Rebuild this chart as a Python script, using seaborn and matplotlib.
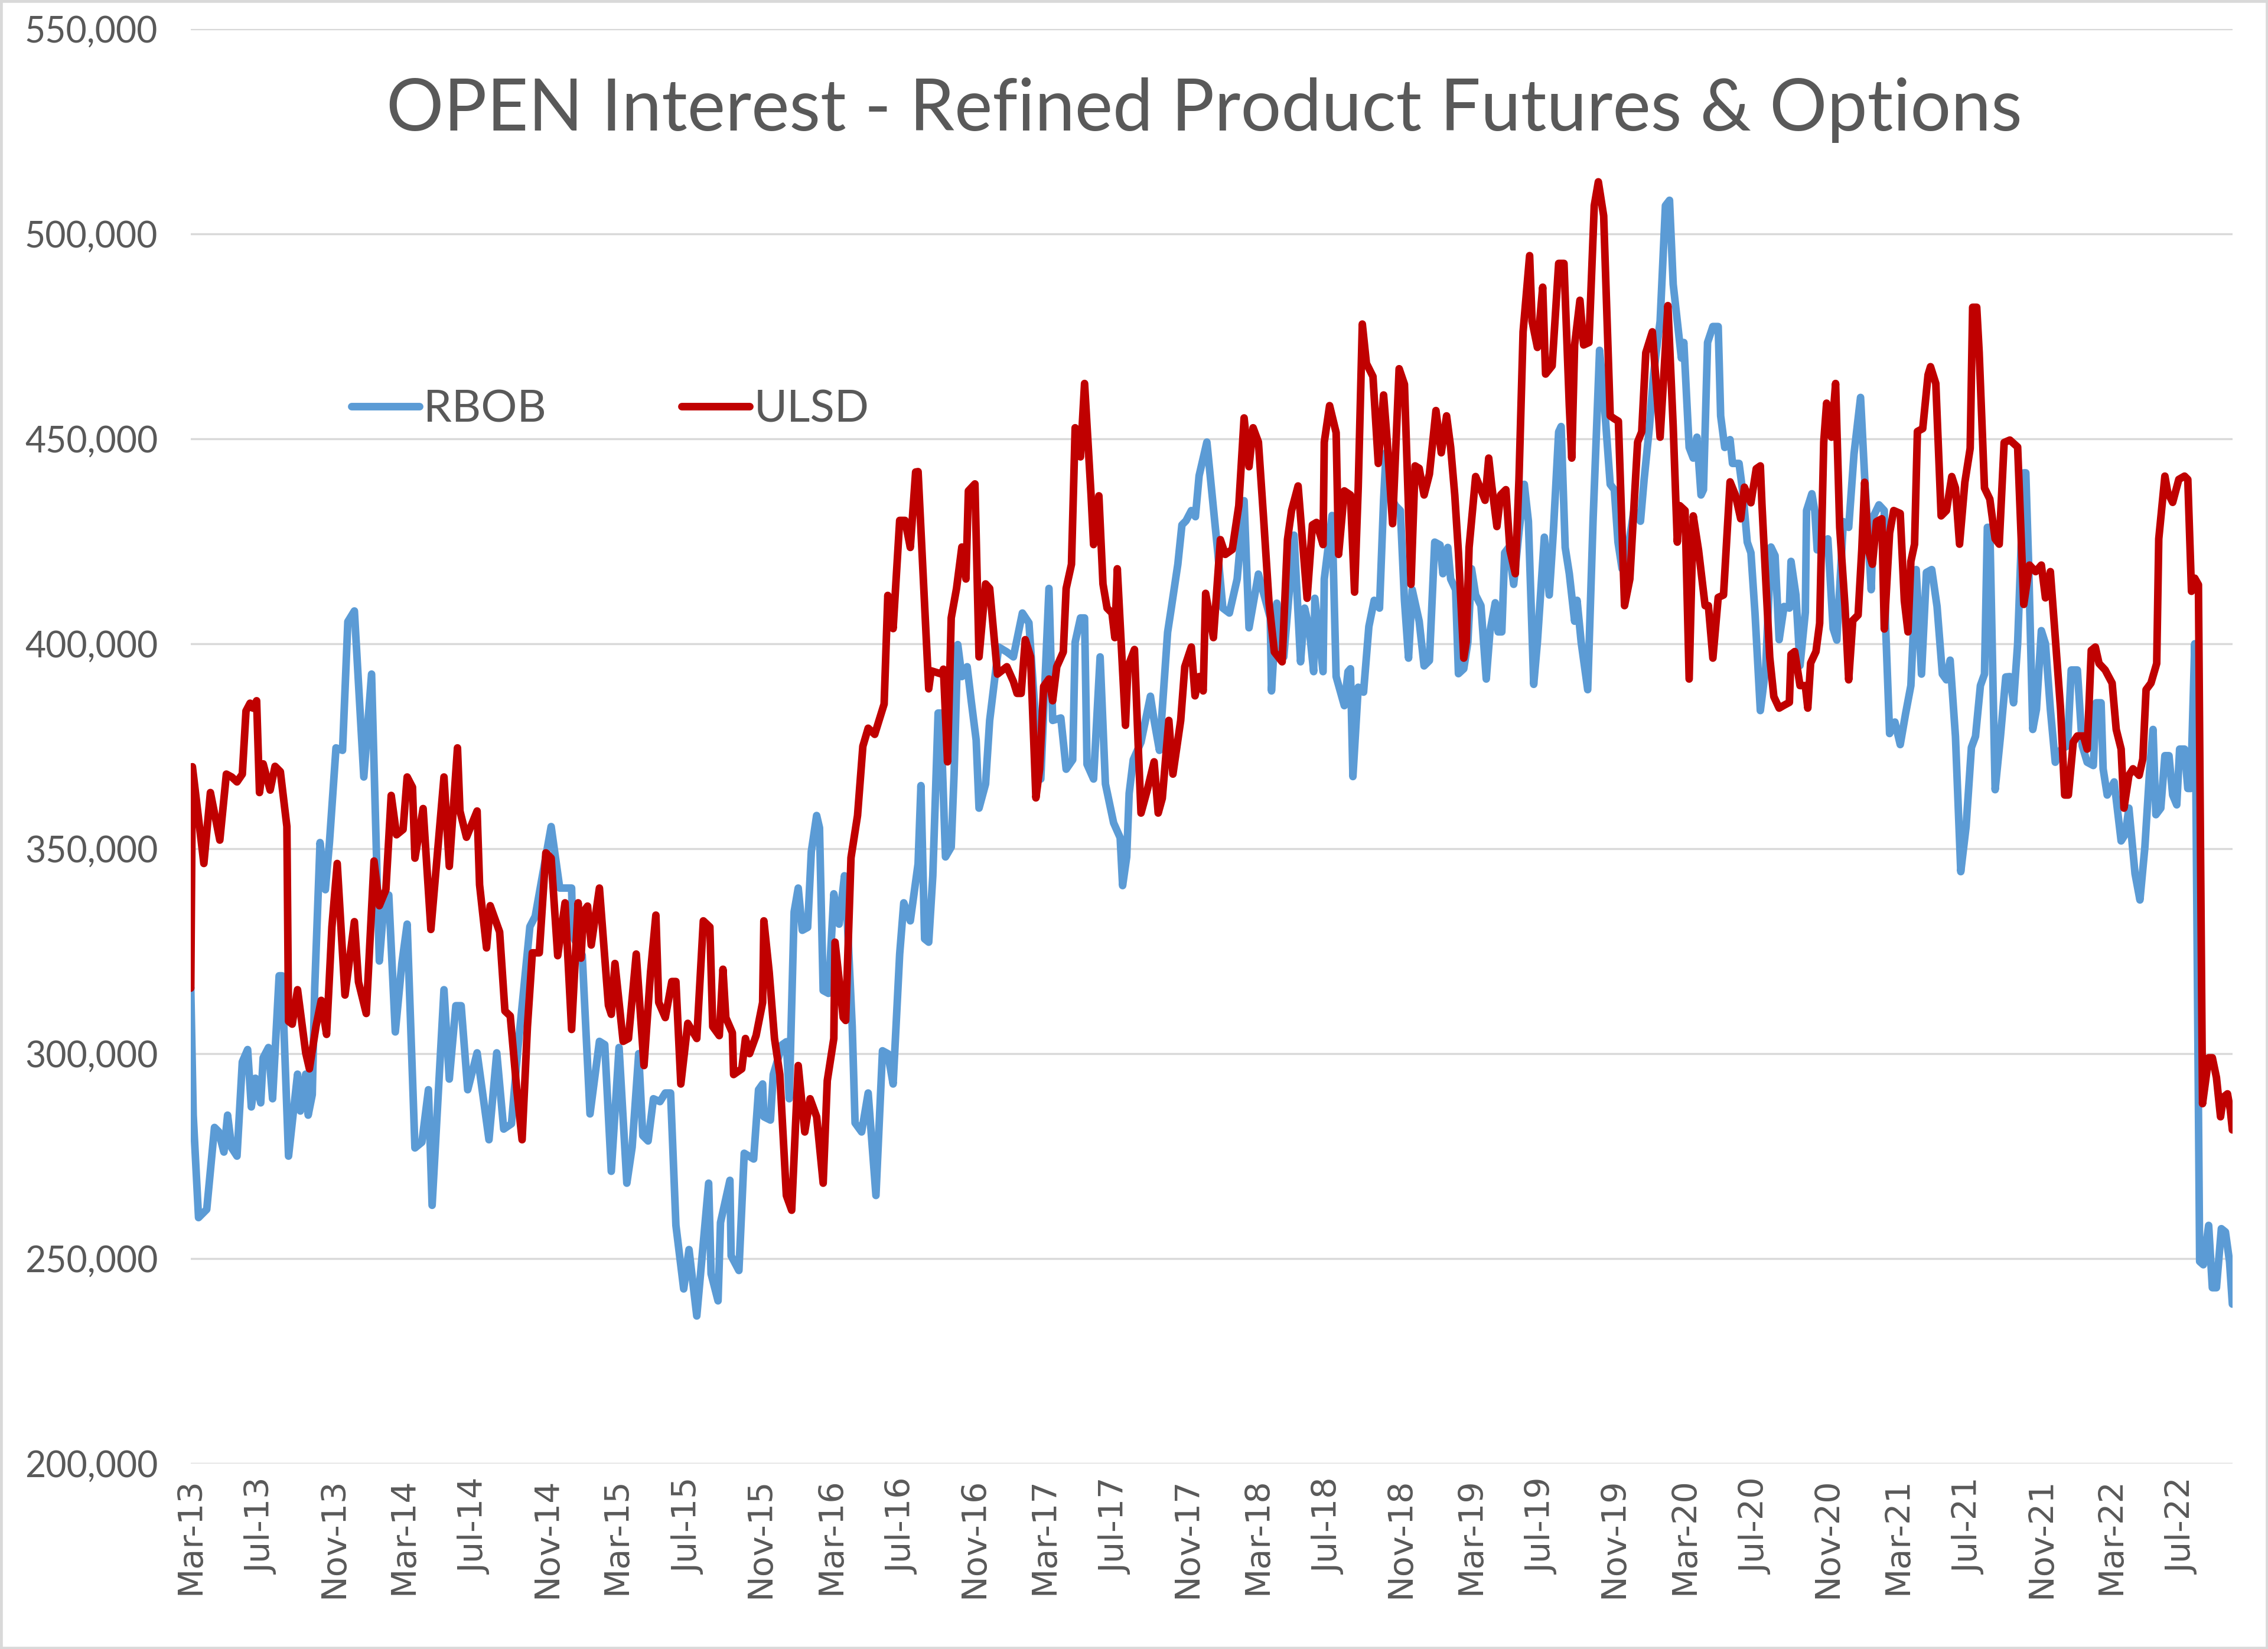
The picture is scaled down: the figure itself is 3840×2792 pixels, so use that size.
import numpy as np
import pandas as pd
import matplotlib
matplotlib.use("Agg")
import matplotlib.pyplot as plt
import matplotlib.dates as mdates
from matplotlib.ticker import FuncFormatter
from matplotlib.lines import Line2D
from matplotlib.patches import Rectangle
import seaborn as sns

# ---------------- data (weeks since 2013-03-01, values in thousands of contracts) ----------------
START = "2013-03-01"

rbob_week = [
    0, 0.6, 1.9, 3.9, 5.8, 6.8, 8.1, 9, 10, 11.3,
    12.6, 13.9, 14.8, 15.8, 17.1, 17.7, 19, 20, 21.6, 22.3,
    23.9, 26.1, 26.8, 28.1, 28.7, 29.7, 30.3, 31.6, 32.9, 33.9,
    35.5, 37.1, 38.4, 40, 42.3, 44.2, 46.1, 47.4, 48.4, 50,
    51.6, 52.9, 54.8, 56.5, 58.1, 59, 61.9, 63.2, 64.8, 66.1,
    67.7, 70, 72.9, 74.8, 76.5, 78.4, 80, 82.9, 84.2, 88.1,
    90.2, 93.1, 93.4, 95.7, 97.6, 99.9, 101.2, 102.8, 104.7, 106.6,
    107.9, 109.5, 110.5, 111.8, 113.1, 114.7, 116, 117.3, 118.6, 120.5,
    121.8, 123.7, 126.6, 127.2, 128.9, 129.5, 131.8, 132.1, 134, 135.3,
    137.6, 138.8, 139.8, 140.1, 141.7, 142.4, 144.6, 145.6, 146.3, 147.5,
    148.5, 149.5, 150.8, 151.7, 153, 153.7, 154.6, 155.9, 157.2, 158.5,
    159.8, 160.4, 161.7, 162.4, 164, 165.6, 167.5, 169.1, 170.4, 171.7,
    173.3, 174.3, 175.9, 177.8, 178.5, 179.4, 180.4, 181.4, 182.7, 183.3,
    184.5, 185.9, 186.6, 187.5, 188.5, 189.8, 190.8, 192, 192.7, 194.3,
    195.3, 196.6, 197.5, 199.5, 201.1, 203.3, 204.9, 206.2, 207.8, 209.8,
    210.7, 212.7, 214, 215.6, 216.2, 217.5, 218.5, 219.1, 220.7, 222.3,
    223.6, 225.6, 227.2, 227.8, 228.8, 229.4, 230.4, 232.3, 234.6, 235.5,
    236.8, 238.8, 239.7, 241.3, 242.3, 243.3, 244.6, 245.6, 246.5, 248.4,
    251, 252.3, 253.9, 255.8, 257.5, 258.7, 261, 263.9, 264.2, 265.5,
    266.5, 267.2, 269.7, 271.3, 272.3, 273.4, 274.5, 274.8, 276.8, 277.1,
    279, 280, 282, 282.9,
    283.5, 284.1, 285.4, 286.7, 288, 289.3, 290.6, 291.6, 292.2, 293.2,
    294.5, 295.7, 296.7, 297.7, 298.6, 300.3, 301.5, 302.8, 304.1, 305.4,
    306.1, 307.3, 308, 309.2, 309.9, 311.2, 312.2, 313.1, 314.1, 315.4,
    316.7, 317.6, 318.9, 319.6, 320.5, 321.2, 322.2, 323.4, 324.7, 326,
    327, 328.3, 329.2, 330.9, 332.1, 333.1, 334.4, 335, 336, 337,
    338.3, 338.9, 339.9, 341.5, 342.8, 344.4, 345.4, 347, 348, 348.9,
    349.9, 351.2, 352.8, 354.4, 355.3, 356.6, 357.6, 359.2, 360.5, 361.5,
    362.4, 364.4, 365, 366.3, 367.3, 368.2, 369.2, 369.8, 370.8, 372.1,
    373.4, 374, 375, 376.3, 376.9, 378.5, 379.5, 380.5, 381.4, 382.4,
    383.7,
    385, 386.3, 387.3, 388.3, 389.5, 390.8, 391.2, 392.4, 393.4, 394.7,
    395, 396.3, 397, 397.6, 398.9, 400.2, 401.5, 402.4, 404, 405.3,
    406.6, 408.2, 409.2, 410.8, 411.4, 412.7, 414, 414.3, 415.3, 416.6,
    417.9, 419.2, 420.5, 421.8, 423.1, 424.3, 425.6, 426.9, 428.2, 429.2,
    430.1, 431.4, 432.7, 434, 435.3, 436.3, 437.5, 438.5, 439.2, 439.8,
    441.1, 442.4, 443.7,
    444.7, 445.6, 446.6, 448.1, 448.6, 449.3, 450.3, 451.2, 452.4, 453.4,
    454.6, 455.8, 457.3, 458.8, 459.7, 461.2, 462.4, 463.6, 465.1, 465.8,
    467, 467.5, 468.5, 470.2, 471.9, 472.9, 473.8, 475.3, 476.5, 477.7,
    478.9, 479.7, 480.4, 481.6, 482.6, 483.6, 484.5, 485.5, 486.2, 487.4,
    488.2, 488.9, 489.9, 491.1, 492, 493.3, 494.2, 495.2, 496.4, 497.4,
    498.4, 499.1,
]
rbob_k = [
    316, 285, 260, 262, 282, 281, 276, 285, 277, 275,
    298, 301, 287, 294, 288, 299, 301.5, 289, 319, 319,
    275, 295, 286, 295, 285, 290, 316, 351.5, 340, 351.5,
    374.6, 374, 405.4, 408, 367.5, 392.6, 322.6, 338.7, 338.7, 305.3,
    322, 331.6, 277, 278.4, 291.2, 263, 315.6, 293.8, 311.7, 311.7,
    291.2, 300.2, 279, 300.2, 281.6, 282.9, 301.5, 331, 333.5, 355.4,
    340.4, 340.4, 328.7, 324, 285.3, 303, 302.2, 271.3, 301.5, 268.4,
    277.2, 300, 280, 278.7, 289, 288.3, 290.4, 290.4, 258.1, 242.6,
    252.2, 236, 268.4, 246.3, 239.7, 258.8, 269.1, 250.7, 247.1, 275.7,
    274.3, 291.2, 292.6, 284.6, 283.8, 294.9, 302.2, 302.9, 289, 334.6,
    340.4, 330.1, 330.8, 349.3, 358.1, 355.1, 315.4, 314.7, 339, 331.6,
    343.4, 334.6, 306.6, 283.1, 280.9, 290.4, 265.4, 300.7, 300, 292.6,
    324.3, 336.8, 332.4, 346.3, 365.4, 328, 327.2, 343.4, 383.1, 383.1,
    348, 350.4, 368.2, 399.8, 392, 394.4, 386, 376.5, 359.9, 365.8,
    381.3, 392, 399.2, 398, 396.8, 407.5, 405.1, 386.1, 367, 413.5,
    381.3, 381.9, 369.4, 371.7, 400.4, 406.3, 406.3, 370.6, 367, 396.8,
    365.8, 356.3, 352.7, 341, 348, 363.5, 371.7, 376, 387.2, 381.3,
    374, 402.8, 408.7, 419.4, 429, 430, 432.5, 431, 441, 449.2,
    423, 408.7, 407.5, 415.8, 434.9, 403.9, 417, 406.3, 388.5, 409.9,
    399.2, 396.8, 426.5, 395.6, 408.7, 403.9, 393.2, 411.1, 393.2, 415.8,
    431.3, 392, 384.9, 393.2,
    393.9, 367.6, 389.4, 388.2, 404.2, 410.6, 408.7, 435, 446.6, 436.3,
    433.7, 432.5, 410.6, 396.5, 413.2, 405.5, 394.6, 395.9, 424.8, 424.1,
    417.1, 423.5, 415.8, 413.2, 392.7, 393.9, 400.4, 418.3, 411.9, 409.3,
    391.4, 402.9, 410, 402.9, 402.9, 422.2, 423.5, 414.5, 427.3, 438.9,
    429.9, 390.1, 400.4, 426, 411.9, 427.3, 451.7, 453, 423.5, 417.1,
    405.5, 410.6, 400.4, 388.8, 429.9, 471.6, 460.7, 438.9, 437.6, 424.8,
    418.3, 422.2, 432.5, 429.9, 440.2, 453, 465.8, 478.7, 506.9, 508.2,
    487.7, 469.7, 473.5, 447.9, 445.3, 450.4, 436.3, 437.6, 473.5, 477.4,
    477.4, 455.6, 447.9, 449.8, 444, 444, 436.3, 424.8, 422.2, 407.4,
    383.7,
    394, 423.6, 421.5, 401, 409.1, 408.7, 420.1, 411.9, 394.7, 407.7,
    432.5, 436.6, 432.5, 422.9, 424.3, 425.6, 403.7, 400.9, 429.8, 428.4,
    446.3, 460.1, 440.8, 413.2, 431.2, 433.9, 432.5, 405, 378.1, 380.9,
    375.4, 382.9, 389.8, 418.1, 392.6, 417.4, 418.1, 409.1, 392.6, 391.2,
    396, 377.4, 344.4, 355.4, 374.7, 377.4, 389.8, 392.6, 428.4, 428.4,
    364.4, 377.4, 391.9,
    392, 385.6, 400, 441.7, 441.7, 419.2, 379.1, 384, 403.2, 400,
    384, 371.1, 374.3, 375.1, 393.6, 393.6, 375.1, 371.1, 370.3, 385.6,
    385.6, 369.5, 363.1, 366.3, 351.9, 353.5, 359.9, 343.9, 337.5, 350.3,
    369.5, 379.1, 358.3, 359.9, 372.7, 372.7, 363.1, 360.7, 374.3, 374.3,
    364.7, 364.7, 400, 249.3, 248.5, 258.1, 242.9, 242.9, 257.3, 256.5,
    249.3, 238.9,
]

ulsd_week = [
    0, 0.4, 3.2, 4.8, 7.1, 8.7, 10, 11.3, 12.6, 13.5,
    14.5, 15.2, 16.1, 16.8, 17.7, 19.4, 20.6, 21.9, 23.5, 23.9,
    24.8, 26.1, 28.1, 29, 30.6, 31.9, 33.2, 34.5, 35.8, 37.7,
    40, 41, 42.9, 44.8, 46.1, 47.7, 49, 50.3, 51.9, 52.9,
    54.2, 54.8, 56.8, 58.7, 61.9, 63.2, 65.2, 65.8, 67.4, 70,
    70.6, 72.3, 73.2, 75.5, 76.8, 78.1, 79.7, 81, 82.3, 83.5,
    85.2, 86.8, 88.1, 89.7,
    91.5, 93.1, 94.7, 95.4, 96, 97, 97.9, 99.9, 102.1, 102.8,
    103.7, 105.7, 107, 108.9, 110.8, 112.4, 113.7, 114.4, 116, 117.6,
    118.6, 119.8, 121.5, 123.7, 125.3, 126.9, 127.6, 129.2, 130.1, 130.8,
    132.4, 132.7, 134.7, 135.6, 136.6, 138.2, 139.8, 140.1, 141.4, 142.7,
    144, 145.6, 146.9, 148.5, 150.1, 151.4, 153, 154.6, 155.6, 157.2,
    157.5, 159.5, 160.1, 161.4, 163, 164.3, 165.6, 167.2, 169.5, 170.4,
    171.7, 173.3, 174.6, 175.9, 177.2, 177.8, 180.4, 181, 183.6,
    184, 185, 185.9, 187.2, 188.5, 189.5, 190.1, 191.7, 192.7, 194.3,
    195.3, 196.6, 197.2, 199.5, 201.1, 202, 203, 204, 205.3, 206.6,
    207.5, 208.5, 209.8, 210.7, 211.7, 213.3, 214, 215.3, 216.2, 217.5,
    218.5, 220.1, 220.7, 222, 223, 224, 225.2, 225.9, 226.5, 228.5,
    229.1, 230.7, 231.7, 232.3, 233.9, 235.5, 236.5, 237.5, 239.1, 240.1,
    242, 243, 244.6, 245.5, 246.5, 247.5, 248.1, 250, 251.7, 252.9,
    254.6, 256.2, 257.5, 258.7, 259.7, 261, 262.3, 263.6, 264.9, 266.8,
    268.1, 269.1, 270.7, 272.9, 274.2, 275.2, 276.8, 277.1, 278.4, 280,
    280.6, 282,
    283.5, 284.5, 285.4, 286.4, 287.4, 289, 290.3, 291.6, 292.5, 293.8,
    295.4, 296.7, 298.3, 299.3, 300.3, 301.5, 302.8, 304.4, 305.7, 307,
    308, 309, 309.9, 311.2, 311.8, 312.5, 314.1, 315.4, 316.4, 317.3,
    318, 319.3, 320.2, 321.5, 322.5, 323.8, 324.7, 325.7, 327.3, 327.9,
    329.2, 330.5, 331.2, 332.8, 334.4, 335.7, 337, 337.6, 338.3, 339.6,
    340.5, 341.8, 343.1, 344.1, 345.4, 347, 348, 349, 350.5, 351.8,
    353.7, 354.7, 355.7, 357.3, 359.2, 360.2, 361.1, 362.4, 363.4, 364,
    365.3, 366.3, 367.3, 368.6, 370.2, 371, 372.1, 373.4, 374.7, 376.3,
    377.6, 378.9, 379.8, 381.4, 382.7, 383.7,
    384.1, 385, 386, 387, 388.3, 389.5, 390.8, 391.2, 392.1, 393.4,
    394.7, 395.3, 396, 397.3, 398.2, 399.2, 399.9, 401.1, 402.1, 403.1,
    404.4, 405.3, 406.3, 407.6, 408.5, 409.2, 410.1, 411.1, 412.1, 413.4,
    414, 415.3, 416.3, 417.9, 418.9, 419.8, 420.5, 421.4, 422.1, 423.4,
    424.7, 425.3, 426.6, 427.9, 429.2, 430.5, 431.4, 432.4, 433.7, 435,
    435.6, 436.6, 437.2, 438.5, 439.8, 441.1, 442.1, 443.3,
    444.7, 446.6, 448.1, 449.5, 451, 452.4, 453.4, 454.6, 455.8, 457.1,
    458.1, 459, 460.2, 461.2, 462.7, 463.6, 464.6, 465.6, 466.5, 468,
    469.7, 470.7, 471.9, 472.6, 473.8, 474.8, 476.3, 477.2, 478, 479.2,
    480.6, 481.1, 482.6, 483.3, 484.5, 486, 487.4, 488.2, 489.1, 489.9,
    490.8, 491.8, 493.3, 494.2, 495.2, 496.2, 496.9, 497.9, 498.6, 499.1,
]
ulsd_k = [
    316, 370, 346.4, 363.7, 352.1, 368.2, 367.5, 366.3, 368.2, 383.6,
    385.5, 384.3, 386.1, 363.7, 370.7, 364.3, 370.1, 368.8, 355.4, 307.9,
    307.2, 315.6, 300.2, 296.3, 306.6, 313, 304.7, 330.9, 346.4, 314.3,
    332.2, 317.5, 309.8, 347, 336.1, 340, 363, 353.4, 354.7, 367.5,
    365, 347.7, 359.8, 330.3, 367.5, 345.7, 374.6, 359.2, 352.8, 359.2,
    341.2, 325.8, 336.1, 329.7, 310.4, 309.2, 291.2, 279, 306.6, 324.6,
    324.6, 349, 347.7, 323.9,
    336.8, 305.9, 336.8, 323.3, 334.6, 336, 326.5, 340.4, 311.8, 309.6,
    322, 303, 303.7, 324.3, 297.1, 319.9, 333.8, 312.5, 308.8, 317.6,
    317.6, 292.6, 307.4, 303.7, 332.4, 330.9, 306.6, 304.4, 320.6, 308.8,
    305.1, 294.9, 296.3, 303.7, 300, 304.4, 312.5, 332.4, 319.9, 303.7,
    294.9, 265.4, 261.8, 297.1, 280.9, 289, 284.6, 268.4, 293.4, 303.7,
    327.2, 308.8, 308.1, 347.8, 358.1, 375, 379.4, 377.9, 385.3, 411.8,
    403.7, 430.1, 430.1, 423.5, 441.9, 442, 389, 393.4, 392.6,
    393.8, 371.2, 406.3, 413.5, 423.6, 415.8, 437.3, 439, 396.8, 414.6,
    413.5, 399.2, 392.6, 394.4, 390.8, 387.9, 387.9, 401, 396.8, 362.4,
    369.4, 389.6, 391.4, 386.1, 394.4, 398, 413.5, 419.4, 452.7, 445.6,
    463.5, 436.1, 424.2, 436.1, 414.6, 408.7, 407.5, 401.5, 418.3, 380.1,
    394.4, 398.6, 373, 358.7, 364.6, 371.2, 358.7, 362.3, 381.3, 368.2,
    381.3, 394.4, 399.2, 387.3, 392, 388.5, 412.3, 401.5, 425.4, 421.8,
    423, 433.7, 455.1, 443.2, 452.7, 449.2, 430.1, 409.9, 398, 395.6,
    425.4, 432.5, 438.5, 411.1, 429, 429.6, 424.2, 449.2, 458.1, 451.5,
    421.8, 437.3,
    436.3, 412.6, 438.2, 478, 468.4, 465.2, 444, 460.7, 449.2, 429.3,
    467.1, 463.3, 414.5, 443.4, 442.8, 436.3, 441.4, 456.9, 446.6, 455.6,
    447.9, 436.3, 422.2, 396.5, 400.4, 423.5, 440.8, 437.6, 435, 445.3,
    438.9, 428.6, 436.3, 437.6, 422.8, 417.1, 440.2, 476.1, 494.7, 478.7,
    472.3, 487, 465.8, 467.8, 492.8, 492.8, 458.1, 445.3, 472.9, 483.8,
    472.9, 473.5, 506.9, 512.7, 504.4, 455.6, 454.9, 454.3, 409.3, 415.8,
    449.2, 451.7, 471, 476.1, 450.4, 467.1, 482.5, 453, 424.8, 433.7,
    432.5, 391.4, 431.2, 422.8, 409.3, 409.3, 396.5, 411.3, 411.9, 439.5,
    436.3, 430.5, 438.2, 434.4, 442.7, 443.4,
    433.9, 416, 396.7, 387.1, 384.3, 385, 385.7, 397.4, 398.1, 389.8,
    389.8, 384.3, 395.3, 398.1, 405, 449.2, 458.7, 450.4, 463.5, 428.4,
    409.1, 391.2, 405.7, 407, 422.9, 439.4, 422.9, 419.4, 429.8, 430.5,
    403.6, 427, 432.5, 431.8, 410.5, 402.9, 420.1, 424.3, 451.8, 452.5,
    465.6, 467.6, 463.5, 431.2, 432.5, 440.8, 438, 424.3, 439.4, 447.7,
    482.1, 482.1, 471.1, 438, 435.3, 425.6, 424.3, 449.1,
    449.7, 448, 409.6, 419.2, 417.6, 419.2, 411.2, 417.6, 401.6, 384,
    363.1, 363.1, 376, 377.5, 377.5, 374.3, 398.4, 399.2, 395.2, 393.6,
    390.4, 379.1, 374.3, 359.9, 367.9, 369.5, 367.9, 371.9, 388.8, 390.4,
    395.2, 425.6, 440.9, 436.9, 434.5, 440.1, 440.9, 440.1, 412.8, 416,
    414.4, 287.8, 299, 299, 294.2, 284.6, 289.4, 290.2, 286.2, 281.4,
]

series_names = ["RBOB", "ULSD"]
series_colors = ["#5B9BD5", "#C00000"]
y_ticks = [200000, 250000, 300000, 350000, 400000, 450000, 500000, 550000]
x_tick_first, x_tick_last = "2013-03-01", "2022-07-01"
title_text = "OPEN Interest - Refined Product Futures & Options"

assert len(rbob_week) == len(rbob_k)
assert len(ulsd_week) == len(ulsd_k)


def build(name, weeks, vals):
    dates = pd.Timestamp(START) + pd.to_timedelta(np.asarray(weeks) * 7.0, unit="D")
    return pd.DataFrame({"date": dates, "value": np.asarray(vals) * 1000.0, "series": name})


df = pd.concat([build("RBOB", rbob_week, rbob_k), build("ULSD", ulsd_week, ulsd_k)],
               ignore_index=True)

# ---------------- style ----------------
sns.set_theme(style="white")
plt.rcParams["font.family"] = ["Lato", "DejaVu Sans"]
TXT = "#595959"
GRID = "#D9D9D9"

W, H = 3840, 2792
DPI = 250
fig = plt.figure(figsize=(W / DPI, H / DPI), dpi=DPI)
fig.patch.set_facecolor("white")

left_px, right_px, top_px, bottom_px = 323, 3780, 49, 2478
ax = fig.add_axes([left_px / W, 1 - bottom_px / H, (right_px - left_px) / W, (bottom_px - top_px) / H])

sns.lineplot(data=df, x="date", y="value", hue="series",
             palette=dict(zip(series_names, series_colors)),
             estimator=None, sort=False, linewidth=3.7, legend=False, ax=ax)
for ln in ax.get_lines():
    ln.set_solid_joinstyle("round")
    ln.set_solid_capstyle("round")

ax.set_ylim(200000, 550000)
ax.set_xlim(pd.Timestamp(START), pd.Timestamp(START) + pd.Timedelta(days=3494))
ax.set_yticks(y_ticks)
ax.yaxis.set_major_formatter(FuncFormatter(lambda v, p: f"{int(v):,}"))
ax.set_xticks(pd.date_range(x_tick_first, x_tick_last, freq="4MS"))
ax.xaxis.set_major_formatter(mdates.DateFormatter("%b-%y"))

ax.yaxis.grid(True, color=GRID, linewidth=1.0)
ax.xaxis.grid(False)
ax.set_axisbelow(True)
for s in ax.spines.values():
    s.set_visible(False)

ax.set_xlabel("")
ax.set_ylabel("")
ax.tick_params(axis="y", length=0, pad=16, labelsize=17.5, labelcolor=TXT)
ax.tick_params(axis="x", length=0, pad=7, labelsize=16.5, labelcolor=TXT, labelrotation=90)
for lab in ax.get_xticklabels():
    lab.set_fontfamily(["DejaVu Sans"])

# title inside plot area
fig.text(0.531, 1 - 186 / H, title_text, ha="center", va="center", fontsize=35, color=TXT)

# legend
handles = [Line2D([0], [0], color=c, lw=3.7, solid_capstyle="round") for c in series_colors]
fig.legend(handles, series_names, loc="center left", bbox_to_anchor=(595 / W, 1 - 693 / H),
           ncol=2, frameon=False, fontsize=22, handlelength=1.5, handletextpad=0.1,
           columnspacing=3.0, borderpad=0, borderaxespad=0, labelcolor=TXT)

# light frame around the chart
fig.add_artist(Rectangle((0, 0), 1, 1, transform=fig.transFigure, fill=False,
                         edgecolor=GRID, linewidth=2.5))

fig.savefig("out.png", dpi=DPI)
